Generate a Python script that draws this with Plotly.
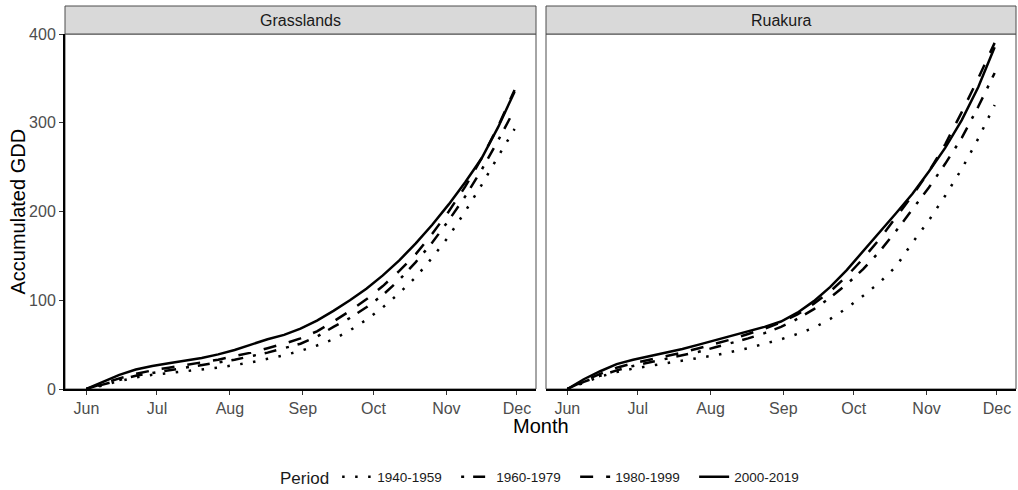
import plotly.graph_objects as go

# Days since 1 June (weekly accumulation steps)
days = [0, 7, 14, 21, 28, 35, 42, 49, 56, 63, 70, 77, 84, 91, 98, 105,
        112, 119, 126, 133, 140, 147, 154, 161, 168, 175, 182]

periods = ["1940-1959", "1960-1979", "1980-1999", "2000-2019"]
sites = ["Grasslands", "Ruakura"]

# Accumulated growing degree days, Grasslands
grass_1940 = [0, 4, 9, 13, 16, 18, 20, 22, 24, 27, 30, 34, 38, 43, 49, 56,
              66, 78, 92, 108, 126, 148, 172, 200, 230, 262, 293]
grass_1960 = [0, 5, 10, 15, 18, 21, 24, 27, 30, 33, 37, 41, 46, 51, 59, 70,
              80, 92, 106, 123, 143, 165, 190, 217, 247, 280, 315]
grass_1980 = [0, 6, 12, 17, 21, 24, 27, 30, 33, 37, 41, 46, 51, 57, 65, 76,
              88, 101, 116, 133, 152, 175, 200, 228, 260, 296, 337]
grass_2000 = [0, 8, 16, 22, 26, 29, 32, 35, 39, 44, 50, 56, 61, 68, 77, 88,
              100, 113, 128, 145, 164, 185, 208, 233, 260, 295, 335]

# Accumulated growing degree days, Ruakura
ruak_1940 = [0, 7, 14, 19, 23, 26, 29, 32, 35, 38, 42, 46, 51, 56, 62, 69,
             79, 91, 105, 120, 138, 165, 190, 218, 248, 282, 320]
ruak_1960 = [0, 8, 15, 21, 26, 30, 34, 38, 42, 47, 52, 57, 63, 70, 79, 90,
             103, 118, 135, 155, 178, 202, 227, 254, 283, 318, 356]
ruak_1980 = [0, 9, 17, 24, 29, 33, 37, 41, 46, 51, 56, 62, 68, 75, 84, 96,
             110, 127, 147, 169, 193, 218, 245, 276, 312, 350, 390]
ruak_2000 = [0, 11, 20, 28, 33, 37, 41, 45, 50, 55, 60, 65, 70, 76, 86, 99,
             115, 134, 155, 176, 198, 220, 245, 272, 303, 340, 385]

series = {
    "Grasslands": [grass_1940, grass_1960, grass_1980, grass_2000],
    "Ruakura": [ruak_1940, ruak_1960, ruak_1980, ruak_2000],
}

month_ticks = [0, 30, 61, 92, 122, 153, 183]
month_labels = ["Jun", "Jul", "Aug", "Sep", "Oct", "Nov", "Dec"]
y_ticks = [0, 100, 200, 300, 400]

dashes = ["2.5px,10.5px", "3px,9px,12px,10px", "13px,13px", "solid"]

W, H = 1018, 490
FONT = "Liberation Sans, Arial, sans-serif"

# panel geometry in pixels
panels = [(65, 536), (546, 1016)]
p_top, p_bot = 34, 389
strip_top = 6


def px_x(v):
    return v / W


def px_y(v):
    return (H - v) / H


fig = go.Figure()

for i, site in enumerate(sites):
    xa = "x" if i == 0 else "x2"
    ya = "y" if i == 0 else "y2"
    for j, per in enumerate(periods):
        fig.add_trace(go.Scatter(
            x=days, y=series[site][j], mode="lines",
            name=per, legendgroup=per, showlegend=(i == 0),
            line=dict(color="black", width=2.5, dash=dashes[j]),
            xaxis=xa, yaxis=ya,
        ))

axis_common = dict(
    showgrid=False, zeroline=False, ticks="outside", ticklen=4,
    tickcolor="#333333", tickwidth=1,
    tickfont=dict(family=FONT, size=16, color="#4D4D4D"),
)

x_range = [-9.1, 191.1]
y_range = [0, 400]

fig.update_layout(
    width=W, height=H,
    margin=dict(l=0, r=0, t=0, b=0, autoexpand=False),
    paper_bgcolor="white", plot_bgcolor="white",
    font=dict(family=FONT, color="black"),
    xaxis=dict(domain=[px_x(panels[0][0]), px_x(panels[0][1])], range=x_range,
               tickvals=month_ticks, ticktext=month_labels, anchor="y",
               showline=True, linecolor="black", linewidth=2, **axis_common),
    xaxis2=dict(domain=[px_x(panels[1][0]), px_x(panels[1][1])], range=x_range,
                tickvals=month_ticks, ticktext=month_labels, anchor="y2",
                showline=True, linecolor="black", linewidth=2, **axis_common),
    yaxis=dict(domain=[px_y(p_bot), px_y(p_top)], range=y_range,
               tickvals=y_ticks, anchor="x",
               showline=True, linecolor="black", linewidth=2, **axis_common),
    yaxis2=dict(domain=[px_y(p_bot), px_y(p_top)], range=y_range,
                tickvals=y_ticks, anchor="x2", showticklabels=False,
                showline=False, showgrid=False, zeroline=False, ticks=""),
    legend=dict(
        orientation="h", x=546 / W, xanchor="center",
        y=px_y(478), yanchor="middle",
        title=dict(text="Period", font=dict(family=FONT, size=17, color="#1A1A1A"), side="left"),
        font=dict(family=FONT, size=13.5, color="#1A1A1A"),
        itemwidth=30, entrywidth=74,
        bgcolor="rgba(0,0,0,0)",
    ),
    showlegend=True,
)

shapes = []
annotations = []
for i, site in enumerate(sites):
    x0, x1 = panels[i]
    # panel border
    shapes.append(dict(type="rect", xref="paper", yref="paper",
                       x0=px_x(x0), x1=px_x(x1), y0=px_y(p_bot), y1=px_y(p_top),
                       line=dict(color="#4D4D4D", width=1), fillcolor="rgba(0,0,0,0)",
                       layer="below"))
    # facet strip
    shapes.append(dict(type="rect", xref="paper", yref="paper",
                       x0=px_x(x0), x1=px_x(x1), y0=px_y(p_top), y1=px_y(strip_top),
                       line=dict(color="#4D4D4D", width=1), fillcolor="#D9D9D9"))
    annotations.append(dict(text=site, xref="paper", yref="paper",
                            x=px_x((x0 + x1) / 2), y=px_y((p_top + strip_top) / 2),
                            xanchor="center", yanchor="middle", showarrow=False,
                            font=dict(family=FONT, size=16, color="#1A1A1A")))

annotations.append(dict(text="Accumulated GDD", xref="paper", yref="paper",
                        x=px_x(18), y=px_y((p_top + p_bot) / 2), textangle=-90,
                        xanchor="center", yanchor="middle", showarrow=False,
                        font=dict(family=FONT, size=20, color="black")))
annotations.append(dict(text="Month", xref="paper", yref="paper",
                        x=px_x(541), y=px_y(426),
                        xanchor="center", yanchor="middle", showarrow=False,
                        font=dict(family=FONT, size=20, color="black")))

fig.update_layout(shapes=shapes, annotations=annotations)

fig.write_html("out.html")
